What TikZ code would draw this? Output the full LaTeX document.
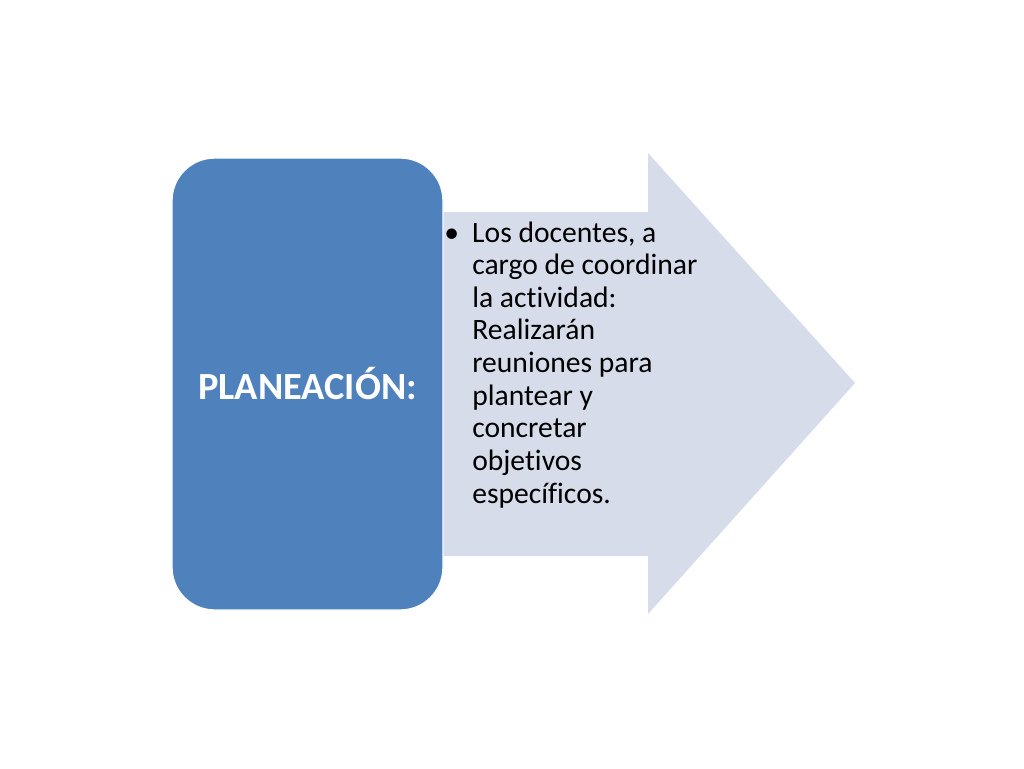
\documentclass[tikz,border=0pt]{standalone}
\usepackage{fontspec}
\setmainfont{Carlito}[Ligatures=NoCommon]
\definecolor{boxblue}{HTML}{4F81BD}
\definecolor{arrowfill}{HTML}{D6DCEA}
\begin{document}
\begin{tikzpicture}[x=0.75pt,y=-0.75pt,
  bigarrow/.style={fill=arrowfill,draw=none},
  titlebox/.style={fill=boxblue,draw=white,line width=1pt,rounded corners=32pt},
  titletext/.style={text=white,font=\fontsize{28.8}{32}\selectfont\bfseries},
  bodytext/.style={text=black,font=\fontsize{22.2}{24.47}\selectfont,anchor=base west,inner sep=0pt}]
\useasboundingbox (0,0) rectangle (1024,768);
\fill[white] (0,0) rectangle (1024,768);
\path[bigarrow] (400,212) -- (648,212) -- (648,153) -- (855,383) -- (648,614) -- (648,556) -- (400,556) -- cycle;
\draw[titlebox] (172,158) rectangle (443,610);
\node[titletext] (title) at (307.5,383) {PLANEACIÓN:};
\node[bodytext] (body) at (444,242) {\begin{tabular}[t]{@{}p{21pt}@{}l@{}}
• & Los docentes, a\\
  & cargo de coordinar\\
  & la actividad:\\
  & Realizarán\\
  & reuniones para\\
  & plantear y\\
  & concretar\\
  & objetivos\\
  & específicos.
\end{tabular}};
\end{tikzpicture}
\end{document}
